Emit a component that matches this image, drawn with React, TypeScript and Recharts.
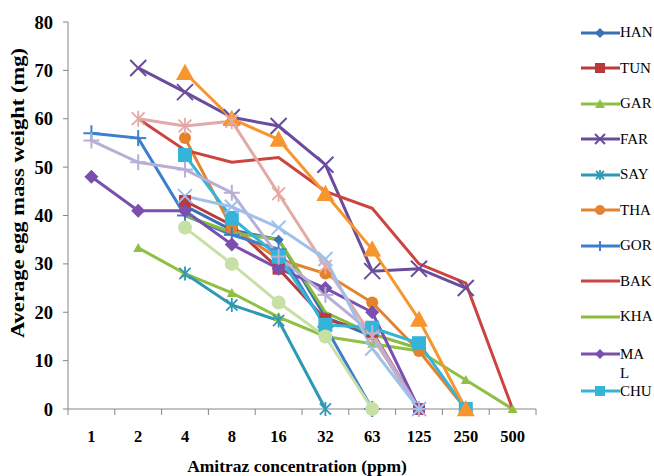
import { LineChart, Line, XAxis, YAxis, Legend } from 'recharts'

const SERIF = "'Liberation Serif', 'DejaVu Serif', serif"

// x categories (ppm)
const concentrations = ['1', '2', '4', '8', '16', '32', '63', '125', '250', '500']

// average egg mass weight (mg) per population, null = not tested
const han = [null, null, 42, 37, 35, 19, 15, 0, null, null]
const tun = [null, null, 43, 38, 29, 18.5, 16, 0, null, null]
const gar = [null, 33.3, 28, 24, 19, 15, 13.5, 12, 6, 0]
const far = [null, 70.5, 65.5, 60.3, 58.5, 50.5, 28.5, 29, 25, null]
const say = [null, null, 28, 21.5, 18.3, 0, null, null, null, null]
const tha = [null, null, 56, 37.5, 31, 28, 22, 12, 0, null]
const gor = [57, 56, 40, 36, 33, 17, 0, null, null, null]
const bak = [null, 60, 53.5, 51, 52, 45, 41.5, 30, 26, 0]
const kha = [null, null, 40, 36.5, 35, 20, 15.5, 12.5, null, null]
const mal = [48, 41, 41, 34, 29, 25, 20, 0, null, null]
const chu = [null, null, 52.5, 39.5, 31.5, 17.4, 16.8, 13.6, 0, null]
// series whose legend entries were cut off in the original
const extra1 = [null, null, 69.5, 60, 55.7, 44.5, 33, 18.5, 0, null]
const extra2 = [null, 60, 58.5, 59.5, 44.5, 29.5, 15, 0, null, null]
const extra3 = [null, null, 37.5, 30, 22, 15, 0, null, null, null]
const extra4 = [55.5, 51, 49.5, 44.7, 31.5, 23.6, 15.7, 0, null, null]
const extra5 = [null, null, 44, 41.8, 37.5, 31, 12.5, 0, null, null]

const yTicks = [0, 10, 20, 30, 40, 50, 60, 70, 80]

type Shape = 'diamond' | 'square' | 'triangle' | 'x' | 'asterisk' | 'circle' | 'plus' | 'none'

type Series = {
  key: string
  name: string
  values: (number | null)[]
  color: string
  shape: Shape
  size: number
  legend: boolean
}

const series: Series[] = [
  { key: 'han', name: 'HAN', values: han, color: '#3b6fb6', shape: 'diamond', size: 5, legend: true },
  { key: 'tun', name: 'TUN', values: tun, color: '#b83a3a', shape: 'square', size: 6, legend: true },
  { key: 'gar', name: 'GAR', values: gar, color: '#8fc043', shape: 'triangle', size: 5, legend: true },
  { key: 'far', name: 'FAR', values: far, color: '#6a4c9c', shape: 'x', size: 8, legend: true },
  { key: 'say', name: 'SAY', values: say, color: '#2f98b4', shape: 'asterisk', size: 7, legend: true },
  { key: 'tha', name: 'THA', values: tha, color: '#e5822e', shape: 'circle', size: 6, legend: true },
  { key: 'gor', name: 'GOR', values: gor, color: '#3d7fcc', shape: 'plus', size: 8, legend: true },
  { key: 'bak', name: 'BAK', values: bak, color: '#cc4440', shape: 'none', size: 0, legend: true },
  { key: 'kha', name: 'KHA', values: kha, color: '#8cba3e', shape: 'none', size: 0, legend: true },
  { key: 'mal', name: 'MAL', values: mal, color: '#7b4fae', shape: 'diamond', size: 7, legend: true },
  { key: 'chu', name: 'CHU', values: chu, color: '#33b4d8', shape: 'square', size: 7, legend: true },
  { key: 'e1', name: 'S12', values: extra1, color: '#f7962e', shape: 'triangle', size: 9, legend: false },
  { key: 'e2', name: 'S13', values: extra2, color: '#e2a9a6', shape: 'asterisk', size: 8, legend: false },
  { key: 'e3', name: 'S14', values: extra3, color: '#c7e0a6', shape: 'circle', size: 7, legend: false },
  { key: 'e4', name: 'S15', values: extra4, color: '#b8aed6', shape: 'plus', size: 8, legend: false },
  { key: 'e5', name: 'S16', values: extra5, color: '#9fc0ea', shape: 'x', size: 7, legend: false },
]

const data = concentrations.map((c, i) => {
  const row: Record<string, string | number | null> = { conc: c }
  series.forEach((s) => {
    row[s.key] = s.values[i]
  })
  return row
})

function Marker({ cx, cy, shape, color, size }: { cx: number; cy: number; shape: Shape; color: string; size: number }) {
  const r = size
  switch (shape) {
    case 'diamond':
      return <polygon points={`${cx},${cy - r} ${cx + r},${cy} ${cx},${cy + r} ${cx - r},${cy}`} fill={color} />
    case 'square':
      return <rect x={cx - r} y={cy - r} width={r * 2} height={r * 2} fill={color} />
    case 'triangle':
      return <polygon points={`${cx},${cy - r} ${cx + r},${cy + r * 0.8} ${cx - r},${cy + r * 0.8}`} fill={color} />
    case 'circle':
      return <circle cx={cx} cy={cy} r={r} fill={color} />
    case 'x':
      return (
        <g stroke={color} strokeWidth={2}>
          <line x1={cx - r} y1={cy - r} x2={cx + r} y2={cy + r} />
          <line x1={cx - r} y1={cy + r} x2={cx + r} y2={cy - r} />
        </g>
      )
    case 'plus':
      return (
        <g stroke={color} strokeWidth={2}>
          <line x1={cx - r} y1={cy} x2={cx + r} y2={cy} />
          <line x1={cx} y1={cy - r} x2={cx} y2={cy + r} />
        </g>
      )
    case 'asterisk':
      return (
        <g stroke={color} strokeWidth={1.8}>
          <line x1={cx - r * 0.8} y1={cy - r * 0.8} x2={cx + r * 0.8} y2={cy + r * 0.8} />
          <line x1={cx - r * 0.8} y1={cy + r * 0.8} x2={cx + r * 0.8} y2={cy - r * 0.8} />
          <line x1={cx} y1={cy - r} x2={cx} y2={cy + r} />
        </g>
      )
    default:
      return null
  }
}

function XTick(props: any) {
  const { x, y, payload, index, visibleTicksCount } = props
  const count = visibleTicksCount || concentrations.length
  const step = (props.width || 468) / count
  const axisY = y - 20
  return (
    <g>
      <line x1={x - step / 2} y1={axisY} x2={x - step / 2} y2={axisY + 6} stroke="#868686" />
      {index === count - 1 && <line x1={x + step / 2} y1={axisY} x2={x + step / 2} y2={axisY + 6} stroke="#868686" />}
      <text x={x} y={y + 1} dy="0.71em" textAnchor="middle" fontFamily={SERIF} fontSize={16.5} fontWeight="bold" fill="#000">
        {payload.value}
      </text>
    </g>
  )
}

function LegendBox() {
  return (
    <div style={{ fontFamily: SERIF, fontSize: 15, color: '#000', lineHeight: '15px' }}>
      {series
        .filter((s) => s.legend)
        .map((s) => (
          <div key={s.key} style={{ display: 'flex', alignItems: 'center', height: s.key === 'mal' ? 39 : 35.5, position: 'relative' }}>
            <svg width={42} height={14} style={{ display: 'block' }}>
              <line x1={3} y1={7} x2={42} y2={7} stroke={s.color} strokeWidth={3} />
              <Marker cx={22} cy={7} shape={s.shape} color={s.color} size={Math.min(s.size, 5)} />
            </svg>
            {s.key === 'mal' ? (
              <span style={{ position: 'relative' }}>
                MA
                <span style={{ position: 'absolute', left: 0, top: 19 }}>L</span>
              </span>
            ) : (
              <span>{s.name}</span>
            )}
          </div>
        ))}
    </div>
  )
}

export default function App() {
  return (
    <div style={{ position: 'absolute', left: 0, top: 0, background: '#fff' }}>
      <LineChart width={654} height={476} data={data} margin={{ top: 22, right: 118, bottom: 0, left: 0 }}>
        <XAxis
          dataKey="conc"
          height={67}
          padding={{ left: 23.4, right: 23.4 }}
          axisLine={{ stroke: '#868686' }}
          tickLine={false}
          tickSize={6}
          tickMargin={14}
          interval={0}
          tick={<XTick />}
          label={{
            content: () => (
              <text x={297} y={472} textAnchor="middle" fontFamily={SERIF} fontSize={17.5} fontWeight="bold" fill="#000">
                Amitraz concentration (ppm)
              </text>
            ),
          }}
        />
        <YAxis
          width={68}
          domain={[0, 80]}
          ticks={yTicks}
          interval={0}
          axisLine={{ stroke: '#868686' }}
          tickLine={{ stroke: '#868686' }}
          tickSize={5}
          tickMargin={10}
          tick={{ fontSize: 18.5, fontWeight: 'bold', fill: '#000', fontFamily: SERIF }}
          label={{
            content: () => (
              <text
                x={24}
                y={193}
                transform="rotate(-90 24 193)"
                textAnchor="middle"
                fontFamily={SERIF}
                fontSize={18}
                fontWeight="bold"
                fill="#000"
                textLength={290}
                lengthAdjust="spacingAndGlyphs"
              >
                Average egg mass weight (mg)
              </text>
            ),
          }}
        />
        <Legend
          layout="vertical"
          align="center"
          verticalAlign="middle"
          wrapperStyle={{ left: 578, top: 15, width: 76 }}
          content={() => <LegendBox />}
        />
        {series.map((s) => (
          <Line
            key={s.key}
            type="linear"
            dataKey={s.key}
            name={s.name}
            stroke={s.color}
            strokeWidth={3}
            isAnimationActive={false}
            activeDot={false}
            legendType={s.legend ? 'line' : 'none'}
            dot={(p: any) => {
              if (p.cx == null || p.cy == null || p.value == null) return <g key={`${s.key}-${p.index}`} />
              return (
                <g key={`${s.key}-${p.index}`}>
                  <Marker cx={p.cx} cy={p.cy} shape={s.shape} color={s.color} size={s.size} />
                </g>
              )
            }}
          />
        ))}
      </LineChart>
    </div>
  )
}
